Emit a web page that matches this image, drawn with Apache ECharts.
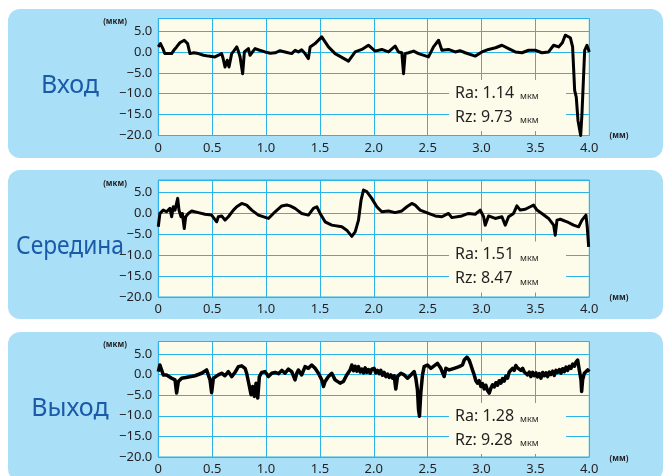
<!DOCTYPE html>
<html>
<head>
<meta charset="utf-8">
<script src="https://cdn.jsdelivr.net/npm/echarts@6/dist/echarts.min.js"></script>
<style>
  body { margin: 0; background: #fff; }
  #chart { width: 664px; height: 476px; }
</style>
</head>
<body>
<div id="chart"></div>
<script>
// profile readings: position along the sample (mm) and deviation (µm)
var entryPos = [0.000, 0.020, 0.046, 0.060, 0.077, 0.124, 0.150, 0.170, 0.200, 0.241, 0.272, 0.294, 0.330, 0.372, 0.420, 0.464, 0.526, 0.588, 0.600, 0.619, 0.640, 0.656, 0.681, 0.700, 0.728, 0.740, 0.759, 0.783, 0.799, 0.836, 0.851, 0.898, 0.940, 0.991, 1.040, 1.084, 1.130, 1.176, 1.238, 1.270, 1.300, 1.330, 1.362, 1.393, 1.409, 1.455, 1.517, 1.579, 1.641, 1.765, 1.827, 1.889, 1.950, 2.012, 2.074, 2.136, 2.198, 2.229, 2.260, 2.276, 2.291, 2.322, 2.370, 2.415, 2.508, 2.554, 2.601, 2.632, 2.693, 2.755, 2.800, 2.848, 2.941, 3.003, 3.065, 3.130, 3.189, 3.251, 3.313, 3.375, 3.437, 3.498, 3.560, 3.622, 3.669, 3.715, 3.750, 3.777, 3.824, 3.845, 3.864, 3.879, 3.895, 3.920, 3.932, 3.957, 3.978, 4.000]
var entryDev = [1.2, 2.0, 0.6, -0.4, -0.4, -0.4, 0.6, 1.2, 2.2, 2.8, 2.0, -0.4, -0.2, -0.4, -0.8, -1.0, -1.2, -0.4, -1.4, -3.6, -2.0, -3.6, -0.4, 0.2, 1.2, 0.4, -1.2, -5.2, 0, 0.8, -0.8, 0.8, 0.4, 0, -0.3, -0.2, 0.3, 0, -0.4, 0.4, 0, 0.5, -0.4, -1.6, 1.2, 2.0, 3.6, 1.2, -0.4, -2.2, 0, 0.6, 1.6, 0.2, 0.6, 0, 1.4, 0, -0.2, -5.2, -0.4, -0.2, 0.2, -0.4, -1.2, 1.2, 2.8, 0.4, 0.6, 0, 0.3, -0.2, -1.0, 0, 0.6, 1.0, 1.6, 0.8, 0, -0.2, 0.4, 0.4, -0.2, 0, 1.6, 1.2, 2.2, 4.0, 3.4, 1.2, -9.2, -10.8, -16.4, -20, -14.8, 0.4, 1.6, 0]

var middlePos = [0.000, 0.015, 0.046, 0.077, 0.108, 0.124, 0.139, 0.155, 0.180, 0.192, 0.211, 0.223, 0.241, 0.254, 0.279, 0.310, 0.372, 0.433, 0.495, 0.542, 0.557, 0.588, 0.619, 0.650, 0.697, 0.728, 0.774, 0.820, 0.867, 0.929, 1.022, 1.084, 1.146, 1.192, 1.223, 1.269, 1.331, 1.393, 1.440, 1.471, 1.502, 1.548, 1.610, 1.703, 1.749, 1.796, 1.827, 1.858, 1.882, 1.904, 1.935, 1.981, 2.028, 2.074, 2.136, 2.198, 2.260, 2.307, 2.353, 2.384, 2.430, 2.508, 2.570, 2.632, 2.693, 2.724, 2.817, 2.879, 2.941, 2.988, 3.019, 3.034, 3.065, 3.127, 3.189, 3.220, 3.251, 3.297, 3.328, 3.359, 3.406, 3.452, 3.483, 3.514, 3.560, 3.622, 3.669, 3.684, 3.700, 3.731, 3.793, 3.854, 3.901, 3.932, 3.969, 3.981, 3.994]
var middleDev = [-3.2, 0, 0.8, 0.4, 1.2, -0.8, 1.6, 0.8, 3.6, 0.8, -0.8, 0, -3.6, -0.8, 0, 0.6, 0.2, -0.2, -0.4, -2.0, -0.8, -0.6, -1.6, -0.8, 0.8, 1.6, 2.4, 2.0, 0.8, -0.4, -1.2, 0.4, 1.8, 2.0, 1.8, 1.2, 0, -0.4, 1.2, 1.6, 0, -2.0, -2.8, -3.2, -4.0, -5.5, -4.4, -1.6, 3.2, 5.6, 5.2, 3.6, 1.6, 0.4, 0.6, 0.2, 0.6, 1.6, 2.4, 2.0, 0.8, 0, -0.6, -0.8, 0, -1.0, -0.6, 0, -0.2, 0.8, -0.8, -2.8, -0.6, -1.2, -0.8, -2.8, -0.8, 0, 1.8, 0.8, 1.0, 1.6, 2.0, 0.8, 0, -1.2, -2.8, -5.2, -1.6, -1.4, -2.0, -2.8, -3.2, -1.6, -0.4, -3.2, -8.0]

var exitPos = [0.000, 0.015, 0.031, 0.046, 0.077, 0.124, 0.155, 0.170, 0.186, 0.217, 0.279, 0.341, 0.402, 0.449, 0.464, 0.480, 0.495, 0.511, 0.557, 0.588, 0.619, 0.650, 0.681, 0.712, 0.743, 0.774, 0.805, 0.820, 0.836, 0.861, 0.876, 0.892, 0.907, 0.923, 0.938, 0.960, 0.991, 1.022, 1.053, 1.084, 1.115, 1.146, 1.176, 1.207, 1.238, 1.269, 1.285, 1.300, 1.331, 1.362, 1.393, 1.424, 1.455, 1.486, 1.517, 1.533, 1.548, 1.579, 1.610, 1.641, 1.687, 1.718, 1.749, 1.780, 1.796, 1.812, 1.827, 1.843, 1.858, 1.874, 1.889, 1.905, 1.920, 1.935, 1.950, 1.966, 1.981, 2.003, 2.018, 2.034, 2.050, 2.065, 2.080, 2.096, 2.112, 2.127, 2.143, 2.158, 2.174, 2.189, 2.204, 2.220, 2.251, 2.282, 2.313, 2.344, 2.375, 2.390, 2.405, 2.415, 2.424, 2.436, 2.452, 2.467, 2.498, 2.529, 2.560, 2.591, 2.622, 2.653, 2.669, 2.700, 2.746, 2.792, 2.823, 2.839, 2.864, 2.885, 2.901, 2.916, 2.932, 2.947, 2.963, 2.978, 2.994, 3.009, 3.025, 3.040, 3.056, 3.071, 3.087, 3.102, 3.118, 3.133, 3.149, 3.164, 3.180, 3.195, 3.210, 3.226, 3.241, 3.257, 3.272, 3.288, 3.303, 3.318, 3.334, 3.350, 3.365, 3.381, 3.396, 3.411, 3.427, 3.443, 3.458, 3.474, 3.489, 3.505, 3.520, 3.536, 3.551, 3.567, 3.582, 3.598, 3.613, 3.629, 3.644, 3.660, 3.675, 3.691, 3.706, 3.722, 3.737, 3.753, 3.768, 3.784, 3.799, 3.815, 3.830, 3.846, 3.861, 3.877, 3.892, 3.907, 3.923, 3.929, 3.938, 3.954, 3.985, 4.000]
var exitDev = [0.7, 2.3, 1.1, -0.1, -0.1, -0.9, -1.3, -4.5, -1.7, -0.9, -0.6, -0.3, 0.3, 1.1, -0.1, -1.3, -4.4, -0.9, -0.1, 0.3, -0.3, 0.7, -0.5, 0.5, 1.9, 2.1, 1.5, 0.3, -1.7, -4.9, -2.9, -5.3, -2.1, -5.7, -0.5, 0.5, 0.7, -0.5, 0.3, 0.5, 0.2, 1.0, 0.3, 1.3, 0.7, -1.3, 0.3, 1.1, -0.1, 1.9, 1.5, 2.3, 1.5, 0.3, -1.3, -2.9, -1.7, -0.5, 0.3, -1.3, -2.1, -1.7, -0.1, 1.1, 2.3, 0.9, 2.0, 0.8, 1.9, 0.6, 1.3, 0.4, 1.6, 0.5, 1.2, 0.3, 1.3, 1.5, 0.4, 1.0, 0.2, 1.0, -0.2, 0.5, -0.5, 0.1, -0.7, -0.1, -0.9, -0.3, -3.5, -0.5, 0.3, -0.1, -0.9, -0.1, 0.7, -0.9, -3.7, -8.5, -10.1, -4.5, -0.1, 1.9, 2.3, 1.5, 2.1, 2.7, 1.5, -0.5, 1.5, 1.1, 1.5, 1.9, 2.3, 3.5, 4.2, 3.5, 2.3, 1.1, -0.1, -1.5, -2.1, -1.5, -2.9, -2.2, -3.5, -2.6, -3.9, -4.5, -3.3, -2.5, -3.0, -2.0, -2.6, -1.5, -2.1, -1.0, -1.6, -0.4, -0.9, 0.6, 0.2, 1.5, 1.0, 2.2, 1.6, 2.0, 1.0, 1.5, 0.6, 1.0, -0.1, 0.6, -0.5, 0.5, -0.3, 0.4, -0.6, 0.2, -0.9, 0.5, -0.3, 0.4, -0.5, 0.6, 0.0, 0.8, -0.2, 1.0, 0.5, 1.2, 0.3, 1.4, 0.7, 1.8, 1.0, 2.0, 1.5, 2.5, 2.0, 3.0, 3.5, 1.1, -1.3, -4.1, -1.3, 0.3, 1.1, 0.7]

var panelNames = ['Вход', 'Середина', 'Выход']
var raValues = ['1.14', '1.51', '1.28']
var rzValues = ['9.73', '8.47', '9.28']

var blue = '#29b5e9'
var cream = '#fdfbe9'
var ink = '#231f20'
var tops = [18.5, 180, 341.5]
var panelTops = [9, 170, 332]
var lineWidths = [3, 3, 3.5]
var nameScale = [1, 0.91, 1]

function zip (xs, ys) {
    var out = []
    for (var i = 0; i < xs.length; i++) out.push([xs[i], ys[i]])
    return out
}

var profiles = [zip(entryPos, entryDev), zip(middlePos, middleDev), zip(exitPos, exitDev)]

var grids = []
var xAxes = []
var yAxes = []
var series = []
var elements = []

for (var i = 0; i < 3; i++) {
    grids.push({
        left: 158.3, width: 431, top: tops[i], height: 117,
        show: true, backgroundColor: cream, borderColor: blue, borderWidth: 1
    })
    xAxes.push({
        gridIndex: i, type: 'value', min: 0, max: 4, interval: 0.5,
        axisLine: { show: false }, axisTick: { show: false },
        splitLine: { lineStyle: { color: blue, width: 1 } },
        axisLabel: {
            margin: 6, color: ink, fontSize: 13, fontFamily: 'Noto Sans',
            formatter: function (v) { return v === 0 ? '0' : v.toFixed(1) }
        }
    })
    yAxes.push({
        gridIndex: i, type: 'value', min: -20, max: 8, interval: 5,
        axisLine: { show: false }, axisTick: { show: false },
        splitLine: { lineStyle: { color: blue, width: 1 } },
        axisLabel: {
            margin: 6, color: ink, fontSize: 13, fontFamily: 'Noto Sans',
            formatter: function (v) {
                if (v % 5 !== 0) return ''
                return v < 0 ? '\u2212' + Math.abs(v).toFixed(1) : v.toFixed(1)
            }
        }
    })
    series.push({
        type: 'line', xAxisIndex: i, yAxisIndex: i,
        data: profiles[i], showSymbol: false, z: 5,
        lineStyle: { color: '#000', width: lineWidths[i], join: 'round' }
    })

    // light blue card behind each chart
    elements.push({
        type: 'rect', z: -10,
        shape: { x: 8, y: panelTops[i], width: 655, height: 149, r: 12 },
        style: { fill: '#aadff8' }
    })
    // Ra / Rz box
    elements.push({
        type: 'rect', z: 1,
        shape: { x: 449, y: tops[i] + 61.5, width: 117, height: 51 },
        style: { fill: cream }
    })
    elements.push({
        type: 'text', z: 6, x: 455, y: tops[i] + 74.5,
        style: { text: 'Ra: ' + raValues[i], fill: ink, font: '16px "Noto Sans"', verticalAlign: 'middle' }
    })
    elements.push({
        type: 'text', z: 6, x: 520, y: tops[i] + 78,
        style: { text: 'мкм', fill: ink, font: '9px "Noto Sans"', verticalAlign: 'middle' }
    })
    elements.push({
        type: 'text', z: 6, x: 455, y: tops[i] + 98.5,
        style: { text: 'Rz: ' + rzValues[i], fill: ink, font: '16px "Noto Sans"', verticalAlign: 'middle' }
    })
    elements.push({
        type: 'text', z: 6, x: 520, y: tops[i] + 102,
        style: { text: 'мкм', fill: ink, font: '9px "Noto Sans"', verticalAlign: 'middle' }
    })
    // units
    elements.push({
        type: 'text', z: 6, x: 115, y: tops[i] + 3.5,
        style: { text: '(мкм)', fill: ink, font: 'bold 8px "Noto Sans"', align: 'center', verticalAlign: 'middle' }
    })
    elements.push({
        type: 'text', z: 6, x: 619, y: tops[i] + 117.5,
        style: { text: '(мм)', fill: ink, font: 'bold 8px "Noto Sans"', align: 'center', verticalAlign: 'middle' }
    })
    // panel name
    elements.push({
        type: 'text', z: 4, x: 70, y: tops[i] + 67, scaleX: nameScale[i],
        style: { text: panelNames[i], fill: '#1a5aa8', font: '25px "Noto Sans"', align: 'center', verticalAlign: 'middle' }
    })
}

var myChart = echarts.init(document.getElementById('chart'))
myChart.setOption({
    animation: false,
    grid: grids,
    xAxis: xAxes,
    yAxis: yAxes,
    series: series,
    graphic: { elements: elements }
})
</script>
</body>
</html>
